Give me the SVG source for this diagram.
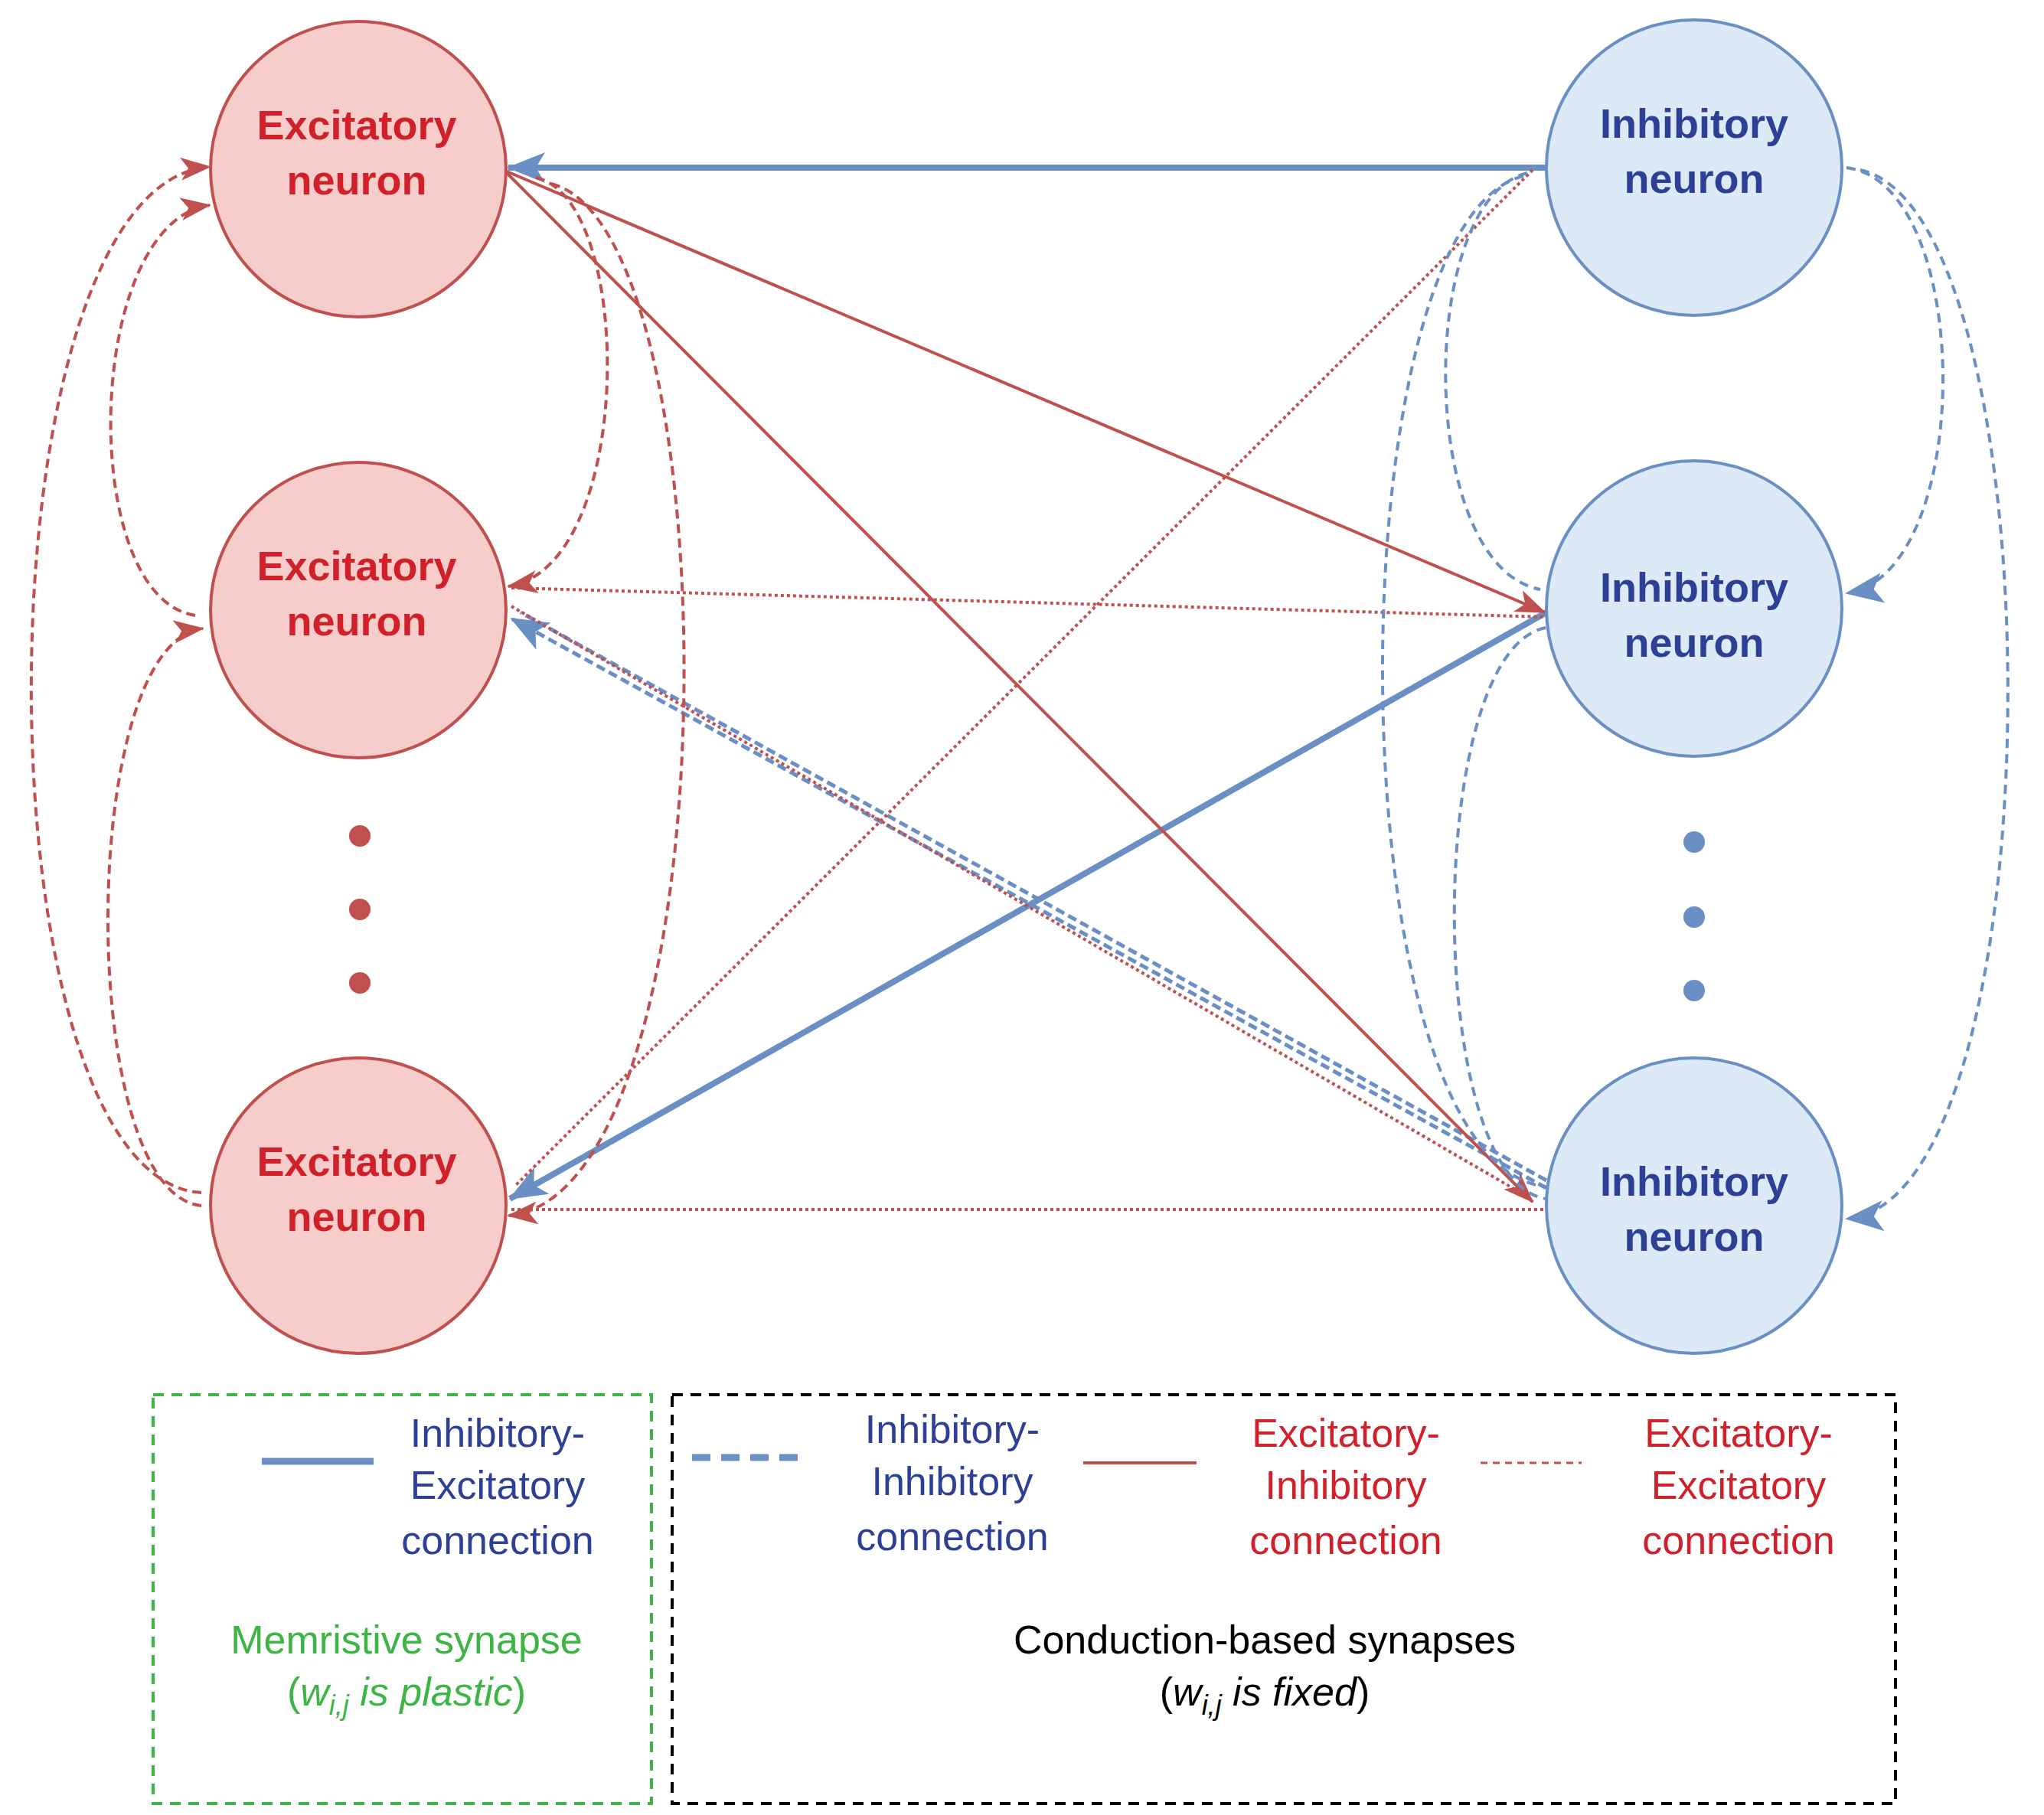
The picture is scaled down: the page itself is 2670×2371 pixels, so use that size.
<svg xmlns="http://www.w3.org/2000/svg" width="2670" height="2371" viewBox="0 0 2670 2371">
<style>
.e{fill:#f7cdcb;stroke:#c0504d;stroke-width:4}
.i{fill:#dce9f6;stroke:#6a8fc4;stroke-width:4}
.nt{font-family:"Liberation Sans",Arial,sans-serif;font-weight:bold;font-size:54px;text-anchor:middle}
.lt{font-family:"Liberation Sans",Arial,sans-serif;font-size:52px;text-anchor:middle}
.rs{stroke:#c0504d;stroke-width:4;fill:none}
.rd{stroke:#c0504d;stroke-width:4;fill:none;stroke-dasharray:4 4}
.rc{stroke:#c0504d;stroke-width:4;fill:none;stroke-dasharray:12 7}
.bs{stroke:#6a8fc4;stroke-width:8;fill:none}
.bd{stroke:#6a8fc4;stroke-width:5;fill:none;stroke-dasharray:12 6}
.bc{stroke:#6a8fc4;stroke-width:4;fill:none;stroke-dasharray:12 8}
</style>
<defs>
<marker id="ar" markerUnits="userSpaceOnUse" markerWidth="40" markerHeight="30" refX="38" refY="15" orient="auto"><path d="M0,0 L40,15 L0,30 L10,15 z" fill="#c0504d"/></marker>
<marker id="ab" markerUnits="userSpaceOnUse" markerWidth="50" markerHeight="40" refX="48" refY="20" orient="auto"><path d="M0,0 L50,20 L0,40 L12,20 z" fill="#6a8fc4"/></marker>
</defs>
<rect width="2670" height="2371" fill="#fff"/>
<g id="connectors">
<line class="bs" x1="2020" y1="219" x2="664" y2="219" marker-end="url(#ab)"/>
<line class="bs" x1="2020" y1="800" x2="666" y2="1566" marker-end="url(#ab)"/>
<line class="bd" x1="2020" y1="1552" x2="668" y2="808" marker-end="url(#ab)"/>
<line class="bd" x1="2020" y1="1542" x2="680" y2="800"/>
<line class="rs" x1="662" y1="224" x2="2018" y2="800" marker-end="url(#ar)"/>
<line class="rs" x1="662" y1="226" x2="2002" y2="1570" marker-end="url(#ar)"/>
<line class="rd" x1="668" y1="768" x2="2020" y2="806"/>
<line class="rd" x1="668" y1="792" x2="2000" y2="1566"/>
<line class="rd" x1="2002" y1="222" x2="672" y2="1550"/>
<line class="rd" x1="668" y1="1580" x2="2020" y2="1580"/>
<path class="rc" d="M263,1558 C -35,1540 -35,240 274,218" marker-end="url(#ar)"/>
<path class="rc" d="M255,804 C 100,780 110,290 274,268" marker-end="url(#ar)"/>
<path class="rc" d="M263,1575 C 100,1560 100,840 265,821" marker-end="url(#ar)"/>
<path class="rc" d="M700,232 C 830,260 830,740 664,766" marker-end="url(#ar)"/>
<path class="rc" d="M720,240 C 960,300 960,1560 664,1588" marker-end="url(#ar)"/>
<path class="bc" d="M2412,219 C 2580,240 2580,750 2412,775" marker-end="url(#ab)"/>
<path class="bc" d="M2430,222 C 2690,280 2690,1570 2412,1592" marker-end="url(#ab)"/>
<path class="bc" d="M1995,226 C 1850,260 1850,740 2012,770"/>
<path class="bc" d="M1990,230 C 1740,290 1740,1520 2019,1550"/>
<path class="bc" d="M2019,820 C 1860,850 1860,1540 2019,1566"/>
</g>
<g id="E1"><circle class="e" cx="468" cy="221" r="193"/><text class="nt" fill="#d0202a" x="466" y="182">Excitatory</text><text class="nt" fill="#d0202a" x="466" y="254">neuron</text></g>
<g id="E2"><circle class="e" cx="468" cy="797" r="193"/><text class="nt" fill="#d0202a" x="466" y="758">Excitatory</text><text class="nt" fill="#d0202a" x="466" y="830">neuron</text></g>
<g id="E3"><circle class="e" cx="468" cy="1575" r="193"/><text class="nt" fill="#d0202a" x="466" y="1536">Excitatory</text><text class="nt" fill="#d0202a" x="466" y="1608">neuron</text></g>
<g id="I1"><circle class="i" cx="2213" cy="219" r="193"/><text class="nt" fill="#2e3f96" x="2213" y="180">Inhibitory</text><text class="nt" fill="#2e3f96" x="2213" y="252">neuron</text></g>
<g id="I2"><circle class="i" cx="2213" cy="795" r="193"/><text class="nt" fill="#2e3f96" x="2213" y="786">Inhibitory</text><text class="nt" fill="#2e3f96" x="2213" y="858">neuron</text></g>
<g id="I3"><circle class="i" cx="2213" cy="1575" r="193"/><text class="nt" fill="#2e3f96" x="2213" y="1562">Inhibitory</text><text class="nt" fill="#2e3f96" x="2213" y="1634">neuron</text></g>
<g id="dots" >
<circle cx="470" cy="1092" r="14" fill="#c0504d"/><circle cx="470" cy="1188" r="14" fill="#c0504d"/><circle cx="470" cy="1284" r="14" fill="#c0504d"/>
<circle cx="2213" cy="1100" r="14" fill="#6a8fc4"/><circle cx="2213" cy="1198" r="14" fill="#6a8fc4"/><circle cx="2213" cy="1294" r="14" fill="#6a8fc4"/>
</g>
<g id="legend">
<rect x="200" y="1822" width="651" height="534" fill="none" stroke="#3db544" stroke-width="4" stroke-dasharray="14 10"/>
<rect x="878" y="1822" width="1598" height="534" fill="none" stroke="#000" stroke-width="4" stroke-dasharray="14 10"/>
<line x1="342" y1="1909" x2="488" y2="1909" stroke="#6a8fc4" stroke-width="9"/>
<text class="lt" fill="#2e3f96"><tspan x="650" y="1890">Inhibitory-</tspan><tspan x="650" y="1958">Excitatory</tspan><tspan x="650" y="2030">connection</tspan></text>
<line x1="904" y1="1904" x2="1049" y2="1904" stroke="#6a8fc4" stroke-width="9" stroke-dasharray="24 14"/>
<text class="lt" fill="#2e3f96"><tspan x="1244" y="1885">Inhibitory-</tspan><tspan x="1244" y="1953">Inhibitory</tspan><tspan x="1244" y="2025">connection</tspan></text>
<line x1="1415" y1="1911" x2="1563" y2="1911" stroke="#c0504d" stroke-width="4"/>
<text class="lt" fill="#d0202a"><tspan x="1758" y="1890">Excitatory-</tspan><tspan x="1758" y="1958">Inhibitory</tspan><tspan x="1758" y="2030">connection</tspan></text>
<line x1="1934" y1="1911" x2="2066" y2="1911" stroke="#c0504d" stroke-width="3" stroke-dasharray="9 7"/>
<text class="lt" fill="#d0202a"><tspan x="2271" y="1890">Excitatory-</tspan><tspan x="2271" y="1958">Excitatory</tspan><tspan x="2271" y="2030">connection</tspan></text>
<text class="lt" fill="#3db544" x="531" y="2160">Memristive synapse</text>
<text class="lt" fill="#3db544" x="531" y="2228">(<tspan font-style="italic">w<tspan font-size="36" dy="12">i,j</tspan><tspan dy="-12">  is plastic</tspan></tspan>)</text>
<text class="lt" fill="#000" x="1652" y="2160">Conduction-based synapses</text>
<text class="lt" fill="#000" x="1652" y="2228">(<tspan font-style="italic">w<tspan font-size="36" dy="12">i,j</tspan><tspan dy="-12">  is fixed</tspan></tspan>)</text>
</g>
</svg>
